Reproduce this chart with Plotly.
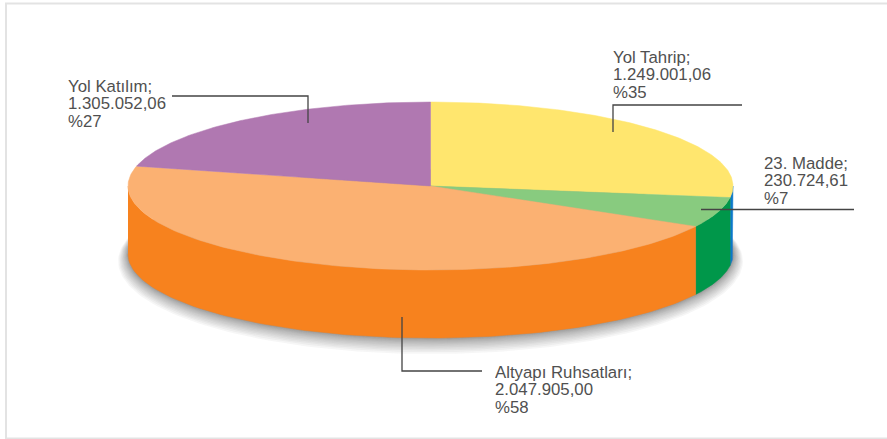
import numpy as np
import plotly.graph_objects as go

# Data
names = ["Yol Tahrip;", "23. Madde;", "Altyapı Ruhsatları;", "Yol Katılım;"]
amounts = ["1.249.001,06", "230.724,61", "2.047.905,00", "1.305.052,06"]
percents = ["%35", "%7", "%58", "%27"]
# drawn share of the disc, per slice (as seen in the picture)
drawn_share = [27.2, 5.8, 45.8, 21.2]
top_colors = ["#ffe66e", "#88cb7f", "#fbb172", "#b078b1"]
side_colors = ["#0b78c9", "#00974a", "#f7821e", "#b078b1"]
label_x = [613, 764, 495, 68]
label_y = [57, 163, 372, 86]
leaders_x = [[613, 613, 742], [701, 854], [402, 402, 482], [172, 308, 308]]
leaders_y = [[132, 105, 105], [209.5, 209.5], [317, 371, 371], [96, 96, 123]]

CX, CY, RX, RY, DEPTH = 430.5, 186.0, 302.5, 84.0, 68.0
START = 90.0

fig = go.Figure()


def ell(t_deg, dy=0.0, rx=RX, ry=RY):
    t = np.radians(t_deg)
    return CX + rx * np.cos(t), CY - ry * np.sin(t) + dy


# soft shadow under the disc: dense near the edge, fading fast
t = np.linspace(0, 360, 241)
LAYERS = 16
for k in range(LAYERS, 0, -1):
    grow = (k / LAYERS) ** 1.8 * 16.0
    xs, ys = ell(t, DEPTH + grow * 0.45, RX + grow * 0.62, RY + grow * 0.55)
    fig.add_trace(go.Scatter(x=xs, y=ys, mode="lines", fill="toself", line=dict(width=0),
                             fillcolor="rgba(70,72,78,0.05)", hoverinfo="skip", showlegend=False))

# slice boundaries from the values
shares = np.array(drawn_share, dtype=float)
edges = START - np.r_[0, np.cumsum(shares)] / shares.sum() * 360

# side walls
for i in range(len(shares)):
    a0, a1 = edges[i], edges[i + 1]   # a0 > a1, clockwise
    lo = a1 % 360
    hi = lo + (a0 - a1)
    lo2, hi2 = max(lo, 180), min(hi, 360)
    if hi2 <= lo2:
        continue
    ts = np.linspace(lo2, hi2, 100)
    xt, yt = ell(ts)
    xb, yb = ell(ts[::-1], DEPTH)
    fig.add_trace(go.Scatter(x=np.r_[xt, xb], y=np.r_[yt, yb], mode="lines", fill="toself",
                             line=dict(width=0.5, color=side_colors[i]),
                             fillcolor=side_colors[i], hoverinfo="skip", showlegend=False))

# top faces
for i in range(len(shares)):
    ts = np.linspace(edges[i], edges[i + 1], 160)
    xt, yt = ell(ts)
    fig.add_trace(go.Scatter(x=np.r_[CX, xt, CX], y=np.r_[CY, yt, CY], mode="lines", fill="toself",
                             line=dict(width=0.5, color=top_colors[i]),
                             fillcolor=top_colors[i], hoverinfo="skip", showlegend=False))

# leader lines
for lx, ly in zip(leaders_x, leaders_y):
    fig.add_trace(go.Scatter(x=lx, y=ly, mode="lines", line=dict(color="#444444", width=1.3),
                             hoverinfo="skip", showlegend=False))

# labels
LINE = 17.5
for i in range(len(names)):
    for j, txt in enumerate([names[i], amounts[i], percents[i]]):
        fig.add_annotation(x=label_x[i], y=label_y[i] + j * LINE, text=txt, showarrow=False,
                           xanchor="left", yanchor="middle", xshift=-1, height=17, valign="middle",
                           font=dict(family="Liberation Sans", size=16.8, color="#505050"), borderpad=0)

fig.update_layout(
    width=887, height=439, margin=dict(l=0, r=0, t=0, b=0),
    paper_bgcolor="white", plot_bgcolor="white", showlegend=False,
    xaxis=dict(range=[0, 887], visible=False, fixedrange=True),
    yaxis=dict(range=[439, 0], visible=False, fixedrange=True),
    shapes=[dict(type="rect", x0=6, y0=3.5, x1=900, y1=438.5, line=dict(color="#e3e3e3", width=2), layer="below")],
)
fig.write_html("out.html", config={"displayModeBar": False},
               post_script="document.body.style.margin='0';document.documentElement.style.overflow='hidden';")
